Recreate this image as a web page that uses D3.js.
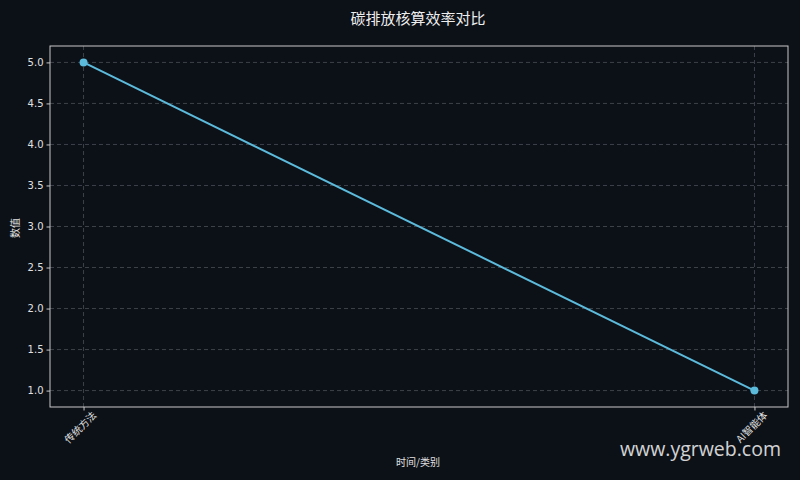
<!DOCTYPE html>
<html>
<head>
<meta charset="utf-8">
<script src="https://cdn.jsdelivr.net/npm/d3@7"></script>
<style>
  body { margin: 0; background: #0c1017; }
  svg { display: block; font-family: "Noto Sans CJK SC", "DejaVu Sans", sans-serif; }
</style>
</head>
<body>
<div id="chart"></div>
<script>
// data
var categories = ["传统方法", "AI智能体"];
var values = [5.0, 1.0];
var yTicks = [1.0, 1.5, 2.0, 2.5, 3.0, 3.5, 4.0, 4.5, 5.0];

var w = 800, h = 480;
var margin = {top: 46, right: 12, bottom: 73, left: 50};

var svg = d3.select("#chart").append("svg")
    .attr("width", w)
    .attr("height", h);

svg.append("rect").attr("width", w).attr("height", h).attr("fill", "#0c1017");

// padding is in step units: 5% of the span on each side like matplotlib
var x = d3.scalePoint()
    .domain(categories)
    .range([margin.left, w - margin.right])
    .padding(0.05);

var y = d3.scaleLinear()
    .domain([0.8, 5.2])
    .range([h - margin.bottom, margin.top]);

// grid
svg.append("g").selectAll("line")
    .data(yTicks).enter().append("line")
    .attr("x1", margin.left).attr("x2", w - margin.right)
    .attr("y1", function(d) { return y(d); })
    .attr("y2", function(d) { return y(d); })
    .attr("stroke", "#4a4f57").attr("stroke-dasharray", "4,3").attr("stroke-width", 0.8);

svg.append("g").selectAll("line")
    .data(categories).enter().append("line")
    .attr("x1", function(d) { return x(d); }).attr("x2", function(d) { return x(d); })
    .attr("y1", margin.top).attr("y2", h - margin.bottom)
    .attr("stroke", "#4a4f57").attr("stroke-dasharray", "4,3").attr("stroke-width", 0.8);

// axes
var yAxis = svg.append("g")
    .attr("transform", "translate(" + margin.left + ",0)")
    .call(d3.axisLeft(y).tickValues(yTicks).tickFormat(d3.format(".1f")).tickSize(3.5).tickPadding(3));

var xAxis = svg.append("g")
    .attr("transform", "translate(0," + (h - margin.bottom) + ")")
    .call(d3.axisBottom(x).tickSize(3.5).tickPadding(3));

[xAxis, yAxis].forEach(function(a) {
    a.select(".domain").remove();
    a.selectAll(".tick line").attr("stroke", "#c8c8c8");
    a.selectAll(".tick text").attr("fill", "#e0e0e0").style("font-size", "10px")
        .style("font-family", "'DejaVu Sans', 'Noto Sans CJK SC', sans-serif");
});

xAxis.selectAll(".tick text")
    .style("font-family", "'Noto Sans CJK SC', sans-serif")
    .attr("text-anchor", "end")
    .attr("dx", "0.3em")
    .attr("dy", "0.9em")
    .attr("transform", "rotate(-45)");

// frame around the plot area
svg.append("rect")
    .attr("x", margin.left).attr("y", margin.top)
    .attr("width", w - margin.left - margin.right)
    .attr("height", h - margin.top - margin.bottom)
    .attr("fill", "none").attr("stroke", "#c8c8c8").attr("stroke-width", 1);

// line + points
var line = d3.line()
    .x(function(d, i) { return x(categories[i]); })
    .y(function(d) { return y(d); });

svg.append("path")
    .datum(values)
    .attr("d", line)
    .attr("fill", "none")
    .attr("stroke", "#5cbadb")
    .attr("stroke-width", 2);

svg.selectAll("circle")
    .data(values).enter().append("circle")
    .attr("cx", function(d, i) { return x(categories[i]); })
    .attr("cy", function(d) { return y(d); })
    .attr("r", 4)
    .attr("fill", "#5cbadb");

// titles
svg.append("text")
    .attr("x", 418).attr("y", 24)
    .attr("text-anchor", "middle")
    .attr("fill", "#eeeeee")
    .style("font-size", "15px")
    .text("碳排放核算效率对比");

svg.append("text")
    .attr("x", 418).attr("y", 466)
    .attr("text-anchor", "middle")
    .attr("fill", "#e0e0e0")
    .style("font-size", "10px")
    .text("时间/类别");

svg.append("text")
    .attr("transform", "translate(19,228) rotate(-90)")
    .attr("text-anchor", "middle")
    .attr("fill", "#e0e0e0")
    .style("font-size", "10px")
    .text("数值");

// watermark
svg.append("text")
    .attr("x", 781).attr("y", 456)
    .attr("text-anchor", "end")
    .attr("fill", "#e8e8e8")
    .attr("opacity", 0.9)
    .style("font-size", "19.5px")
    .style("font-family", "'Open Sans', 'DejaVu Sans', sans-serif")
    .text("www.ygrweb.com");
</script>
</body>
</html>
